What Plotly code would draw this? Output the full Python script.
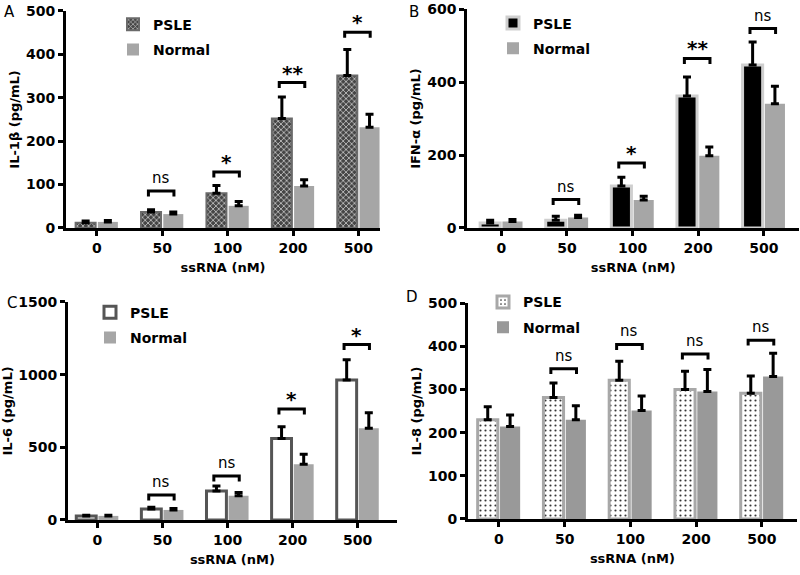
import plotly.graph_objects as go

# ---------------- data ----------------
doses = ["0", "50", "100", "200", "500"]

il1b_psle = [12, 37, 80, 252, 351]
il1b_psle_err = [4, 5, 18, 50, 60]
il1b_norm = [14, 32, 51, 97, 232]
il1b_norm_err = [3, 5, 10, 14, 30]
il1b_br_heights = [85, 129, 335, 451]
il1b_br_labels = ["ns", "*", "**", "*"]

ifna_psle = [14, 21, 115, 362, 447]
ifna_psle_err = [7, 11, 24, 52, 63]
ifna_norm = [18, 29, 77, 198, 341]
ifna_norm_err = [5, 6, 10, 24, 48]
ifna_br_heights = [78, 178, 465, 547]
ifna_br_labels = ["ns", "*", "**", "ns"]

il6_psle = [28, 76, 200, 561, 963]
il6_psle_err = [5, 12, 34, 80, 140]
il6_norm = [28, 69, 166, 384, 632]
il6_norm_err = [5, 10, 23, 68, 106]
il6_br_heights = [172, 303, 763, 1207]
il6_br_labels = ["ns", "ns", "*", "*"]

il8_psle = [230, 281, 321, 300, 291]
il8_psle_err = [30, 34, 44, 42, 40]
il8_norm = [214, 230, 251, 295, 330]
il8_norm_err = [27, 32, 34, 51, 54]
il8_br_heights = [348, 404, 382, 414]
il8_br_labels = ["ns", "ns", "ns", "ns"]

br_groups = [1, 2, 3, 4]

FONT = "DejaVu Sans, Verdana, sans-serif"

panels = [
    dict(letter="A", ytitle="IL-1β (pg/mL)", psle=il1b_psle, psle_err=il1b_psle_err,
         norm=il1b_norm, norm_err=il1b_norm_err, brh=il1b_br_heights, brl=il1b_br_labels,
         ymax=500, dtick=100, xdom=[0.0825, 0.475], ydom=[0.6035, 0.981], xr=[-0.47, 4.33],
         psle_marker=dict(color="#4f4f4f", line=dict(color="#6a6a6a", width=2),
                          pattern=dict(shape="x", size=4, solidity=0.35, fgcolor="#d0d0d0",
                                       bgcolor="#454545", fillmode="replace")),
         norm_color="#a6a6a6", leg=dict(x=113/800, y=0.985), lab=(9, 12)),
    dict(letter="B", ytitle="IFN-α (pg/mL)", psle=ifna_psle, psle_err=ifna_psle_err,
         norm=ifna_norm, norm_err=ifna_norm_err, brh=ifna_br_heights, brl=ifna_br_labels,
         ymax=600, dtick=200, xdom=[0.584, 0.999], ydom=[0.6035, 0.984], xr=[-0.52, 4.54],
         psle_marker=dict(color="#000000", line=dict(color="#cfcfcf", width=3)),
         norm_color="#a6a6a6", leg=dict(x=493/800, y=0.987), lab=(414, 12)),
    dict(letter="C", ytitle="IL-6 (pg/mL)", psle=il6_psle, psle_err=il6_psle_err,
         norm=il6_norm, norm_err=il6_norm_err, brh=il6_br_heights, brl=il6_br_labels,
         ymax=1500, dtick=500, xdom=[0.085, 0.496], ydom=[0.0957, 0.4748], xr=[-0.45, 4.6],
         psle_marker=dict(color="#ffffff", line=dict(color="#555555", width=3)),
         norm_color="#a6a6a6", leg=dict(x=90/800, y=0.484), lab=(12, 303)),
    dict(letter="D", ytitle="IL-8 (pg/mL)", psle=il8_psle, psle_err=il8_psle_err,
         norm=il8_norm, norm_err=il8_norm_err, brh=il8_br_heights, brl=il8_br_labels,
         ymax=500, dtick=100, xdom=[0.585, 0.996], ydom=[0.0974, 0.473], xr=[-0.47, 4.53],
         psle_marker=dict(color="#ffffff", line=dict(color="#a8a8a8", width=3),
                          pattern=dict(shape=".", size=5, solidity=0.15, fgcolor="#333333",
                                       bgcolor="#ffffff", fillmode="replace")),
         norm_color="#999999", leg=dict(x=483/800, y=0.502), lab=(412, 297)),
]

fig = go.Figure()
annotations = []
xidx = list(range(len(doses)))

for k, p in enumerate(panels):
    n = "" if k == 0 else str(k + 1)
    xa, ya = "x" + n, "y" + n
    lg = "legend" + n
    err_style = dict(type="data", symmetric=False, color="black", thickness=3, width=4)
    fig.add_trace(go.Bar(
        x=xidx, y=p["psle"], name="PSLE", xaxis=xa, yaxis=ya, legend=lg,
        legendgroup=f"p{k}", marker=p["psle_marker"],
        error_y=dict(array=p["psle_err"], arrayminus=[0] * 5, **err_style)))
    fig.add_trace(go.Bar(
        x=xidx, y=p["norm"], name="Normal", xaxis=xa, yaxis=ya, legend=lg,
        legendgroup=f"n{k}", marker=dict(color=p["norm_color"], line=dict(width=0)),
        error_y=dict(array=p["norm_err"], arrayminus=[0] * 5, **err_style)))

    # significance brackets
    leg_len = 0.025 * p["ymax"]
    bx, by = [], []
    for g, h in zip(br_groups, p["brh"]):
        bx += [g - 0.21, g - 0.21, g + 0.18, g + 0.18, None]
        by += [h - leg_len, h, h, h - leg_len, None]
    fig.add_trace(go.Scatter(x=bx, y=by, mode="lines", xaxis=xa, yaxis=ya,
                             line=dict(color="black", width=3), showlegend=False,
                             hoverinfo="skip"))
    for g, h, t in zip(br_groups, p["brh"], p["brl"]):
        star = t != "ns"
        annotations.append(dict(
            x=g - 0.015, y=h, xref=xa, yref=ya, text=t, showarrow=False,
            yanchor="bottom", xanchor="center", yshift=(-4 if star else 2),
            font=dict(family=FONT, size=(20 if star else 15), color="black",
                      weight=("bold" if star else "normal"))))

    # panel letter
    annotations.append(dict(x=p["lab"][0] / 800, y=1 - p["lab"][1] / 575, xref="paper",
                            yref="paper", text=p["letter"], showarrow=False,
                            xanchor="center", yanchor="middle",
                            font=dict(family=FONT, size=15, color="black")))

    axis_common = dict(showline=True, linecolor="black", linewidth=3, ticks="outside",
                       tickcolor="black", tickwidth=3, ticklen=5, showgrid=False,
                       zeroline=False, automargin=False,
                       tickfont=dict(family=FONT, size=14, color="black", weight="bold"))
    fig.layout["xaxis" + n] = dict(
        domain=p["xdom"], range=p["xr"], anchor=ya, tickvals=xidx, ticktext=doses,
        title=dict(text="ssRNA (nM)", standoff=9,
                   font=dict(family=FONT, size=13, color="black", weight="bold")),
        **axis_common)
    fig.layout["yaxis" + n] = dict(
        domain=p["ydom"], range=[0, p["ymax"]], anchor=xa, dtick=p["dtick"], tick0=0,
        title=dict(text=p["ytitle"], standoff=4,
                   font=dict(family=FONT, size=13, color="black", weight="bold")),
        **axis_common)
    fig.layout[lg] = dict(
        x=p["leg"]["x"], y=p["leg"]["y"], xanchor="left", yanchor="top",
        bgcolor="rgba(0,0,0,0)", traceorder="grouped", tracegroupgap=4,
        font=dict(family=FONT, size=14, color="black", weight="bold"))

fig.update_layout(
    width=800, height=575, margin=dict(l=0, r=0, t=0, b=0),
    paper_bgcolor="white", plot_bgcolor="white",
    barmode="group", bargap=0.32, bargroupgap=0.1,
    annotations=annotations, showlegend=True,
    font=dict(family=FONT, color="black"),
)

fig.write_html("out.html", config={"displayModeBar": False},
               post_script="document.body.style.margin='0';document.body.style.overflow='hidden';")
